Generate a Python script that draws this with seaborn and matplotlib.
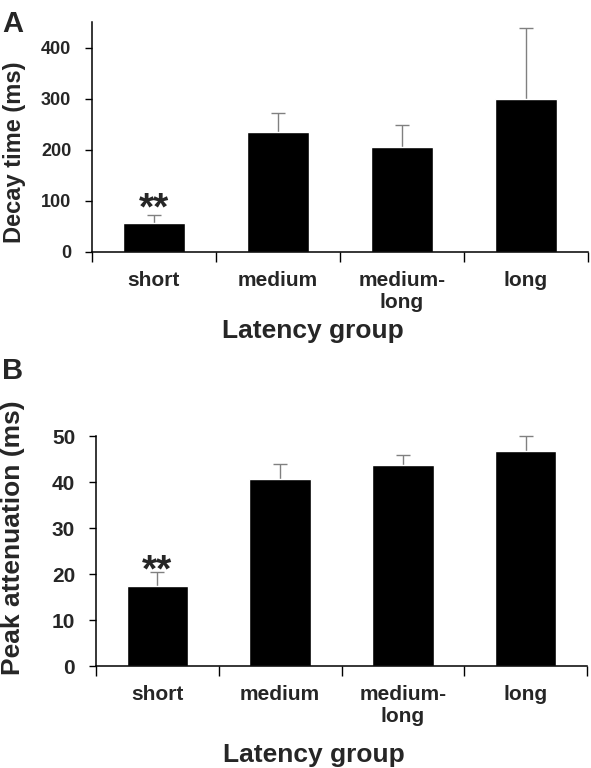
import matplotlib
matplotlib.use("Agg")
import matplotlib.pyplot as plt
import seaborn as sns
import pandas as pd

groups = ["short", "medium", "medium-\nlong", "long"]
decay_mean = [57, 234, 205, 300]
decay_err = [15, 38, 43, 138]
atten_mean = [17.4, 40.6, 43.8, 46.8]
atten_err = [3.0, 3.3, 2.1, 3.2]

sns.set_style("white")
plt.rcParams['font.family'] = ['Liberation Sans', 'DejaVu Sans']
plt.rcParams['font.weight'] = 'bold'

fig = plt.figure(figsize=(5.91, 7.68), dpi=100)
axA = fig.add_axes([92 / 591, 1 - 252 / 768, 496 / 591, 230 / 768])
axB = fig.add_axes([96 / 591, 1 - 666 / 768, 491 / 591, 230 / 768])


def panel(ax, means, errs, ylim, yticks, ylabel, ylabelsize, yticksize,
          star_y):
    df = pd.DataFrame({"group": groups, "value": means})
    sns.barplot(data=df, x="group", y="value", color="black", width=0.5,
                saturation=1, ax=ax, zorder=2)
    xs = list(range(len(groups)))
    tops = [m + e for m, e in zip(means, errs)]
    # only the upper half of the error bar, grey, as in the original
    ax.errorbar(xs, means, yerr=[[0] * len(errs), errs], fmt="none",
                ecolor="#808080", elinewidth=1, capsize=0, zorder=1)
    ax.plot(xs, tops, linestyle="none", marker="_", markersize=10,
            markeredgewidth=1, color="#808080", zorder=1)
    ax.set_xlim(-0.5, 3.5)
    ax.set_ylim(*ylim)
    ax.set_yticks(yticks)
    ax.set_xticks(xs)
    ax.set_xticklabels(groups, fontsize=15, fontweight="bold")
    # tick marks sit between the groups
    ax.set_xticks([-0.5, 0.5, 1.5, 2.5, 3.5], minor=True)
    ax.tick_params(axis="x", which="major", length=0, pad=14)
    ax.tick_params(axis="x", which="minor", length=7, width=1, direction="out",
                   color="black", bottom=True)
    ax.tick_params(axis="y", length=5, width=1, direction="out", color="black",
                   left=True, labelsize=yticksize, pad=10)
    for lab in ax.get_yticklabels():
        lab.set_fontweight("bold")
    sns.despine(ax=ax)
    for s in ["left", "bottom"]:
        ax.spines[s].set_color("black")
        ax.spines[s].set_linewidth(1.1)
    ax.set_ylabel(ylabel, fontsize=ylabelsize, fontweight="bold")
    ax.set_xlabel("Latency group", fontsize=19, fontweight="bold")
    ax.text(0, star_y, "**", ha="center", va="center", fontsize=28,
            fontweight="bold")
    for a in ax.collections + ax.lines:
        a.set_clip_on(False)


panel(axA, decay_mean, decay_err, (0, 450), [0, 100, 200, 300, 400],
      "Decay time (ms)", 17, 13, 84)
axA.yaxis.set_label_coords(-0.133, 0.435)
axA.xaxis.set_label_coords(0.446, -0.29)

panel(axB, atten_mean, atten_err, (0, 50), [0, 10, 20, 30, 40, 50],
      "Peak attenuation (ms)", 19, 15, 20.6)
axB.yaxis.set_label_coords(-0.145, 0.56)
axB.xaxis.set_label_coords(0.444, -0.335)

fig.text(0.004, 1 - 10 / 768, "A", fontsize=21, fontweight="bold", va="top")
fig.text(0.004, 1 - 357 / 768, "B", fontsize=21, fontweight="bold", va="top")

fig.savefig("out.png", dpi=100)
